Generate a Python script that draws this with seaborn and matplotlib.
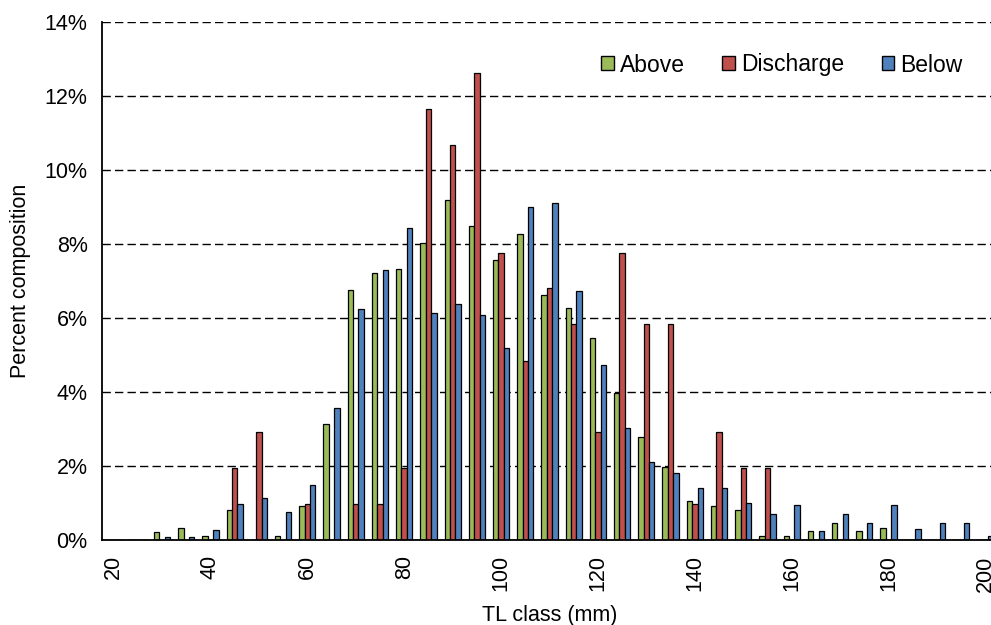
import matplotlib
matplotlib.use("Agg")
import matplotlib.pyplot as plt
from matplotlib.patches import Patch
from matplotlib.ticker import PercentFormatter, FixedLocator
import seaborn as sns
import pandas as pd

categories = list(range(20, 205, 5))
above = [0, 0, 0.22, 0.33, 0.10, 0.80, 0, 0.10, 0.92, 3.14, 6.75, 7.21, 7.33, 8.03, 9.20, 8.50,
         7.57, 8.26, 6.63, 6.28, 5.47, 3.96, 2.79, 1.98, 1.05, 0.92, 0.81, 0.10, 0.10, 0.23,
         0.46, 0.23, 0.33, 0, 0, 0, 0]
discharge = [0, 0, 0, 0, 0, 1.94, 2.91, 0, 0.97, 0, 0.97, 0.97, 1.94, 11.65, 10.68, 12.62,
             7.77, 4.85, 6.80, 5.83, 2.91, 7.77, 5.83, 5.83, 0.97, 2.91, 1.94, 1.94, 0, 0,
             0, 0, 0, 0, 0, 0, 0]
below = [0, 0, 0.09, 0.09, 0.27, 0.98, 1.14, 0.75, 1.50, 3.56, 6.25, 7.31, 8.42, 6.14, 6.37, 6.08,
         5.20, 9.00, 9.12, 6.73, 4.74, 3.04, 2.11, 1.81, 1.40, 1.40, 0.99, 0.70, 0.94, 0.23,
         0.70, 0.46, 0.94, 0.29, 0.46, 0.46, 0.10]
series_names = ["Above", "Discharge", "Below"]
colors = ["#9BBB59", "#C0504D", "#4F81BD"]

rows = []
for name, vals in zip(series_names, [above, discharge, below]):
    for c, v in zip(categories, vals):
        rows.append({"TL": str(c), "pct": v, "series": name})
df = pd.DataFrame(rows)

sns.set_style("white")
plt.rcParams["font.family"] = ["Liberation Sans", "DejaVu Sans"]
plt.rcParams["text.color"] = "black"
plt.rcParams["axes.labelcolor"] = "black"
plt.rcParams["xtick.color"] = "black"
plt.rcParams["ytick.color"] = "black"
FS = 15.5

fig = plt.figure(figsize=(9.91, 6.25), dpi=100)
ax = fig.add_axes([101.5 / 991, 85 / 625, 896 / 991, 518 / 625])

sns.barplot(data=df, x="TL", y="pct", hue="series", order=[str(c) for c in categories],
            hue_order=series_names, palette=colors, width=0.67, gap=0,
            edgecolor="black", linewidth=0.9, saturation=1, ax=ax, legend=False)

ax.set_xlim(-0.5, len(categories) - 0.5)
ax.set_ylim(0, 14)
ax.yaxis.set_major_locator(FixedLocator([0, 2, 4, 6, 8, 10, 12, 14]))
ax.yaxis.set_major_formatter(PercentFormatter(decimals=0))
ax.yaxis.grid(True, color="black", linestyle=(0, (6, 3)), linewidth=1.0)
ax.set_axisbelow(True)

# x ticks: marks at group boundaries, labels every 4th category
ax.set_xticks([i - 0.5 for i in range(0, len(categories) + 1, 4)])
ax.set_xticklabels([])
ax.set_xticks(list(range(0, len(categories), 4)), minor=True)
ax.set_xticklabels([str(categories[i]) for i in range(0, len(categories), 4)],
                   minor=True, rotation=90, fontsize=FS)
ax.tick_params(axis="x", which="major", direction="inout", length=9, width=1.2, color="black")
ax.tick_params(axis="x", which="minor", length=0, pad=11)
ax.tick_params(axis="y", which="major", direction="out", length=6, width=1.2, color="black",
               labelsize=FS, pad=4)

for s in ["top", "right"]:
    ax.spines[s].set_visible(False)
for s in ["left", "bottom"]:
    ax.spines[s].set_color("black")
    ax.spines[s].set_linewidth(1.3)

ax.set_xlabel("TL class (mm)", fontsize=FS, labelpad=10)
ax.set_ylabel("Percent composition", fontsize=FS, labelpad=10)

handles = [Patch(facecolor=c, edgecolor="black", linewidth=1.0) for c in colors]
fig.legend(handles, series_names, loc="center right", bbox_to_anchor=(0.971, 0.896),
           ncol=3, frameon=False, fontsize=16.5, handlelength=0.55, handleheight=0.55,
           handletextpad=0.25, columnspacing=1.65, borderaxespad=0, borderpad=0)

fig.savefig("out.png", dpi=100)
